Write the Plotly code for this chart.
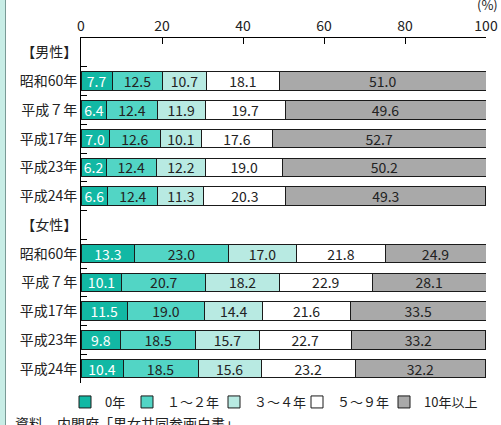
import plotly.graph_objects as go

series_names = ["0年", "１～２年", "３～４年", "５～９年", "10年以上"]
series_colors = ["#12b8a4", "#52d5c5", "#b8eae2", "#ffffff", "#a9a9a9"]
text_colors = ["#ffffff", "#222222", "#222222", "#222222", "#222222"]

row_ids = ["m_h", "m1", "m2", "m3", "m4", "m5", "f_h", "f1", "f2", "f3", "f4", "f5"]
row_labels = ["【男性】", "昭和60年", "平成７年", "平成17年", "平成23年", "平成24年",
              "【女性】", "昭和60年", "平成７年", "平成17年", "平成23年", "平成24年"]
bar_rows = ["m1", "m2", "m3", "m4", "m5", "f1", "f2", "f3", "f4", "f5"]

v_0 = [7.7, 6.4, 7.0, 6.2, 6.6, 13.3, 10.1, 11.5, 9.8, 10.4]
v_1_2 = [12.5, 12.4, 12.6, 12.4, 12.4, 23.0, 20.7, 19.0, 18.5, 18.5]
v_3_4 = [10.7, 11.9, 10.1, 12.2, 11.3, 17.0, 18.2, 14.4, 15.7, 15.6]
v_5_9 = [18.1, 19.7, 17.6, 19.0, 20.3, 21.8, 22.9, 21.6, 22.7, 23.2]
v_10 = [51.0, 49.6, 52.7, 50.2, 49.3, 24.9, 28.1, 33.5, 33.2, 32.2]
values = [v_0, v_1_2, v_3_4, v_5_9, v_10]

# legend entry left edges (px) in the picture
legend_px = [81, 143, 230, 313, 400]

FONT = "Noto Sans CJK JP"
W, H = 501, 425

fig = go.Figure()
legend_layouts = {}
for i, (name, col, tc, vals) in enumerate(zip(series_names, series_colors, text_colors, values)):
    lg = "legend" if i == 0 else f"legend{i + 1}"
    fig.add_trace(go.Bar(
        y=bar_rows, x=vals, name=name, orientation="h", legend=lg,
        marker=dict(color=col, line=dict(color="#1a1a1a", width=1)),
        text=[f"{v:.1f}" for v in vals], textposition="inside",
        insidetextanchor="middle", textangle=0, constraintext="none",
        textfont=dict(color=tc, size=14, family=FONT),
        hoverinfo="skip",
    ))
    legend_layouts[lg] = dict(
        orientation="h", xref="container", yref="container",
        x=(legend_px[i] - 16) / W, y=(H - 402) / H, xanchor="left", yanchor="middle",
        font=dict(size=13, family=FONT, color="#222222"), itemwidth=30,
        bgcolor="rgba(0,0,0,0)", borderwidth=0,
    )

fig.update_layout(
    barmode="stack", bargap=0.35,
    width=W, height=H,
    margin=dict(l=81, r=15, t=38, b=42, autoexpand=False),
    paper_bgcolor="#ffffff", plot_bgcolor="#ffffff",
    font=dict(family=FONT, size=14, color="#222222"),
    showlegend=True,
    xaxis=dict(side="top", range=[0, 100], tickvals=[0, 20, 40, 60, 80, 100],
               showline=True, linecolor="#000000", linewidth=1,
               ticks="inside", ticklen=6, tickcolor="#000000",
               showgrid=False, zeroline=False, fixedrange=True, automargin=False,
               tickfont=dict(size=14, color="#222222")),
    yaxis=dict(type="category", categoryorder="array", categoryarray=row_ids,
               tickmode="array", tickvals=row_ids, ticktext=row_labels,
               tickson="boundaries", ticks="inside", ticklen=6, tickcolor="#000000",
               showline=True, linecolor="#000000", linewidth=1,
               showgrid=False, zeroline=False, automargin=False,
               range=[11.5, -0.5], autorange=False,
               tickfont=dict(size=14, color="#222222")),
    **legend_layouts,
)

fig.add_annotation(text="(%)", xref="paper", yref="paper", x=(500 - 81) / 405, y=(383 - 4) / 345,
                   xanchor="right", yanchor="middle", showarrow=False,
                   font=dict(size=13, family=FONT))
fig.add_annotation(text="資料　内閣府「男女共同参画白書」", xref="paper", yref="paper",
                   x=(13 - 81) / 405, y=(383 - 423) / 345, xanchor="left", yanchor="middle",
                   showarrow=False, font=dict(size=14, family=FONT))
fig.add_shape(type="rect", xref="paper", yref="paper", x0=-0.2, x1=(5 - 81) / 405,
              y0=-0.2, y1=1.2, fillcolor="#c8ede6", line=dict(width=0), layer="below")
fig.add_shape(type="line", xref="paper", yref="paper", x0=(5.5 - 81) / 405, x1=(5.5 - 81) / 405,
              y0=-0.2, y1=1.2, line=dict(color="#7a9a96", width=1))

fig.write_html("out.html", config={"displayModeBar": False},
               post_script="document.body.style.margin='0';")
